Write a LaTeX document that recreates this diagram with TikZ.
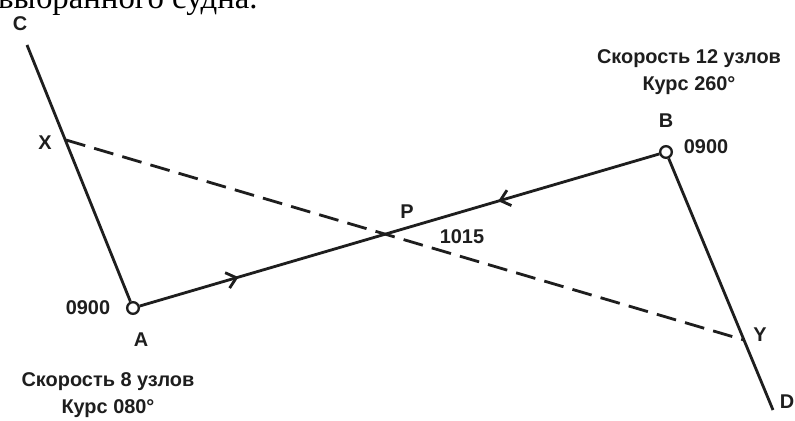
\documentclass[tikz,border=0pt]{standalone}
\usepackage{fontspec}
\setmainfont{Liberation Sans}
\newfontfamily\pageserif{Liberation Serif}
\usepackage{tikz}
\usetikzlibrary{arrows.meta, positioning, calc, decorations.markings}
\definecolor{inkgray}{RGB}{30,30,30}
\tikzset{
    shippos/.style={circle, draw=inkgray, fill=white, line width=2pt,
                    inner sep=0pt, minimum size=3.5mm},
    course/.style={line width=2.4pt, color=inkgray},
    relmotion/.style={line width=2.4pt, color=inkgray, dash pattern=on 6mm off 2.8mm},
    lbl/.style={font=\fontsize{17}{23}\selectfont\bfseries, text=inkgray,
                inner sep=1pt, align=center},
    headtext/.style={font=\pageserif\fontsize{28}{32}\selectfont, anchor=base west,
                     inner sep=0pt},
    midarrows/.style={postaction={decorate, decoration={markings,
        mark=at position 0.19 with {\arrow{Straight Barb[length=2.8mm, width=4.8mm]}},
        mark=at position 0.69 with {\arrowreversed{Straight Barb[length=2.8mm, width=4.8mm]}}}}}
}
\begin{document}
\begin{tikzpicture}[x=0.3mm, y=-0.3mm]
    \useasboundingbox[fill=white] (0,0) rectangle (795,421);

    % cut-off line of the page text above
    \node[headtext] (head) at (-2,9) {выбранного судна.};

    % positions at 0900
    \node[shippos] (A) at (133,308) {};
    \node[shippos] (B) at (666,152) {};
    \coordinate (C) at (27,45);
    \coordinate (D) at (773,410);
    \coordinate (X) at (66,140);
    \coordinate (Y) at (744,340);
    \coordinate (P) at (380,234);

    % tracks
    \draw[course] (C) -- (A);
    \draw[course] (B) -- (D);
    \draw[course, midarrows] (A) -- (B);
    \draw[relmotion] (X) -- (Y);

    % labels
    \node[lbl] (labC) at (20,24) {C};
    \node[lbl] (labD) at (787,402) {D};
    \node[lbl] (labX) at (45,143) {X};
    \node[lbl] (labY) at (760,335) {Y};
    \node[lbl] (labP) at (407,212) {P};
    \node[lbl] (tP) at (462,237) {1015};
    \node[lbl] (labA) at (141,340) {A};
    \node[lbl] (tA) at (88,308) {0900};
    \node[lbl] (labB) at (666,121) {B};
    \node[lbl] (tB) at (706,147) {0900};
    \node[lbl] (shipB) at (689,72) {Скорость 12 узлов\\Курс 260°};
    \node[lbl] (shipA) at (108,395) {Скорость 8 узлов\\Курс 080°};
\end{tikzpicture}
\end{document}
